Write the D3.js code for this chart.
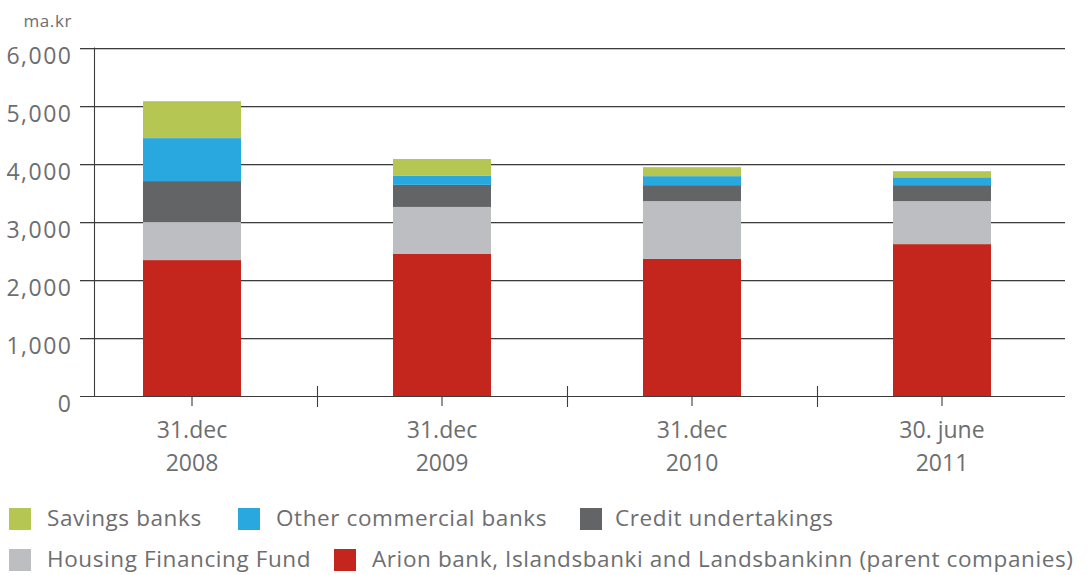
<!DOCTYPE html>
<html>
<head>
<meta charset="utf-8">
<script src="https://cdn.jsdelivr.net/npm/d3@7"></script>
<style>
  html, body { margin: 0; padding: 0; background: #fff; }
  svg { display: block; font-family: "Open Sans", sans-serif; }
</style>
</head>
<body>
<svg id="chart" width="1089" height="575"></svg>
<script>
// Category labels (two lines each)
const dateLabels = ["31.dec", "31.dec", "31.dec", "30. june"];
const yearLabels = ["2008", "2009", "2010", "2011"];

// Series values, ma.kr
const parentCompanies = [2340, 2445, 2360, 2615];
const housingFund     = [655, 810, 995, 740];
const creditUnder     = [705, 380, 275, 275];
const otherCommercial = [740, 155, 155, 135];
const savingsBanks    = [635, 290, 155, 105];

const yTicks = [0, 1000, 2000, 3000, 4000, 5000, 6000];
const unitLabel = "ma.kr";

const seriesNames = [
  "Arion bank, Islandsbanki and Landsbankinn (parent companies)",
  "Housing Financing Fund",
  "Credit undertakings",
  "Other commercial banks",
  "Savings banks"
];
const seriesColors = ["#c4261d", "#bdbec1", "#636466", "#29a8e0", "#b5c752"];
const seriesValues = [parentCompanies, housingFund, creditUnder, otherCommercial, savingsBanks];

// Rows for d3.stack
const keys = seriesNames;
const rows = yearLabels.map((y, i) => {
  const r = { cat: i };
  keys.forEach((k, j) => { r[k] = seriesValues[j][i]; });
  return r;
});

const svg = d3.select("#chart");
const textColor = "#6d6e70";

const x = d3.scaleBand().domain(d3.range(yearLabels.length)).range([67, 1067]).padding(0);
const y = d3.scaleLinear().domain([0, 6000]).range([396, 47.5]);
const barW = x.bandwidth() * 0.392;

// Gridlines with a soft shadow line beneath
const grid = svg.append("g");
yTicks.filter(t => t > 0).forEach(t => {
  grid.append("line")
    .attr("x1", 80).attr("x2", 1065)
    .attr("y1", Math.round(y(t)) + 1.5).attr("y2", Math.round(y(t)) + 1.5)
    .attr("stroke", "#c8c8c8").attr("stroke-width", 1);
  grid.append("line")
    .attr("x1", 80).attr("x2", 1065)
    .attr("y1", Math.round(y(t)) + 0.5).attr("y2", Math.round(y(t)) + 0.5)
    .attr("stroke", "#3c3c3c").attr("stroke-width", 1.1);
});

// Stacked bars
const stacked = d3.stack().keys(keys)(rows);
svg.append("g").selectAll("g")
  .data(stacked)
  .join("g")
  .attr("fill", (d, i) => seriesColors[i])
  .selectAll("rect")
  .data(d => d)
  .join("rect")
  .attr("x", d => x(d.data.cat) + (x.bandwidth() - barW) / 2)
  .attr("width", barW)
  .attr("y", d => y(d[1]))
  .attr("height", d => y(d[0]) - y(d[1]));

// Axes lines
const axes = svg.append("g").attr("stroke", "#3c3c3c").attr("stroke-width", 1.1);
axes.append("line").attr("x1", 94.5).attr("x2", 94.5).attr("y1", y(6000)).attr("y2", 396);
axes.append("line").attr("x1", 80).attr("x2", 1065).attr("y1", 396.5).attr("y2", 396.5);
// Category separators
x.domain().slice(1).forEach(c => {
  axes.append("line").attr("x1", x(c) + 0.5).attr("x2", x(c) + 0.5).attr("y1", 386).attr("y2", 407);
});
// Category centre ticks
x.domain().forEach(c => {
  const cx = x(c) + x.bandwidth() / 2;
  axes.append("line").attr("x1", cx).attr("x2", cx).attr("y1", 396).attr("y2", 406);
});

// Y tick labels
svg.append("g").selectAll("text")
  .data(yTicks)
  .join("text")
  .attr("x", 72.5)
  .attr("y", d => y(d) + 16)
  .attr("text-anchor", "end")
  .attr("fill", textColor)
  .style("font-size", "23px")
  .style("letter-spacing", "1.5px")
  .text(d => d3.format(",")(d));

svg.append("text")
  .attr("x", 72).attr("y", 27)
  .attr("text-anchor", "end")
  .attr("fill", textColor)
  .style("font-size", "17px")
  .style("letter-spacing", "0.6px")
  .text(unitLabel);

// X category labels
const xl = svg.append("g").attr("fill", textColor).style("font-size", "23px").attr("text-anchor", "middle");
x.domain().forEach(c => {
  const cx = x(c) + x.bandwidth() / 2;
  xl.append("text").attr("x", cx).attr("y", 438).text(dateLabels[c]);
  xl.append("text").attr("x", cx).attr("y", 471).text(yearLabels[c]);
});

// Legend
const legendOrder = [4, 3, 2, 1, 0];
const legendPos = [
  { sx: 9, sy: 508, tx: 47 },
  { sx: 238, sy: 508, tx: 276 },
  { sx: 580, sy: 508, tx: 615 },
  { sx: 9, sy: 549, tx: 47 },
  { sx: 334, sy: 549, tx: 372 }
];
const lg = svg.append("g");
legendOrder.forEach((si, i) => {
  const p = legendPos[i];
  lg.append("rect").attr("x", p.sx).attr("y", p.sy).attr("width", 22).attr("height", 22).attr("fill", seriesColors[si]);
  lg.append("text").attr("x", p.tx).attr("y", p.sy + 18)
    .attr("fill", textColor).style("font-size", "22.5px")
    .style("letter-spacing", "0.6px")
    .text(seriesNames[si]);
});
</script>
</body>
</html>
